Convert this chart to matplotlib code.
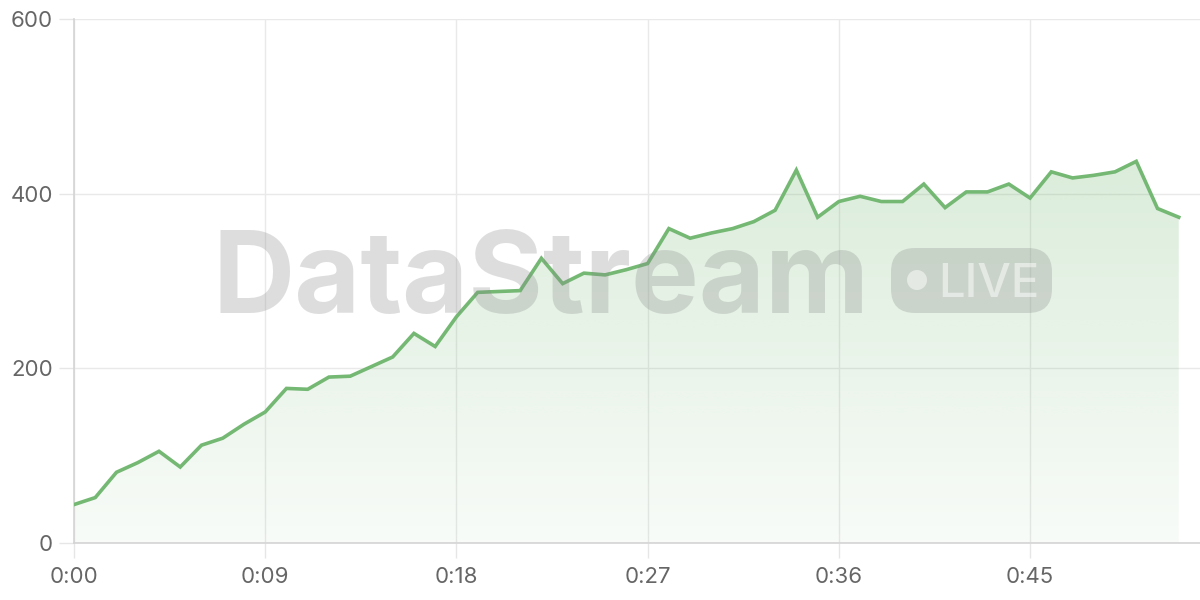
import numpy as np
import matplotlib
matplotlib.use("Agg")
import matplotlib.pyplot as plt
from matplotlib.patches import FancyBboxPatch, Circle
from matplotlib.transforms import IdentityTransform

# data: one reading per second
seconds = list(range(53))
values = [44, 52, 81, 92, 105, 87, 112, 120, 136, 150,
          177, 176, 190, 191, 202, 213, 240, 225, 259, 287,
          288, 289, 326, 297, 309, 307, 313, 320, 360, 349,
          355, 360, 368, 381, 427, 373, 391, 397, 391, 391,
          411, 384, 402, 402, 411, 395, 425, 418, 421, 425,
          437, 383, 373]
tick_pos = [0, 9, 18, 27, 36, 45]
tick_labels = ["0:00", "0:09", "0:18", "0:27", "0:36", "0:45"]
y_ticks = [0, 200, 400, 600]

green = "#74b874"
plt.rcParams["font.family"] = ["Inter", "DejaVu Sans"]

fig = plt.figure(figsize=(12, 6), dpi=100)
ax = fig.add_axes([74 / 1200, 57 / 600, 1 - 74 / 1200, 524 / 600])
ax.set_xlim(0, 53)
ax.set_ylim(0, 600)

# gradient fill under the line
poly = ax.fill_between(seconds, values, 0, facecolor="none", edgecolor="none")
top = max(values)
grad = np.zeros((256, 2, 4))
rgb = matplotlib.colors.to_rgb(green)
grad[..., :3] = rgb
grad[..., 3] = np.linspace(0.26, 0.05, 256)[:, None]
img = ax.imshow(grad, extent=[0, seconds[-1], 0, top], aspect="auto",
                origin="upper", zorder=1)
img.set_clip_path(poly.get_paths()[0], transform=ax.transData)

ax.plot(seconds, values, color=green, lw=2.6, zorder=3, solid_joinstyle="miter")

# axes styling
ax.set_xticks(tick_pos)
ax.set_xticklabels(tick_labels)
ax.set_yticks(y_ticks)
ax.grid(True, color="#e9e9e9", lw=1)
ax.set_axisbelow(True)
for s in ["top", "right"]:
    ax.spines[s].set_visible(False)
for s in ["left", "bottom"]:
    ax.spines[s].set_color("#d4d4d4")
    ax.spines[s].set_linewidth(1.2)
ax.tick_params(axis="both", length=11, width=1, color="#e6e6e6",
               labelcolor="#666666", labelsize=16)
ax.tick_params(axis="x", pad=6)
ax.tick_params(axis="y", pad=4)

# watermark on top
fig.text(212 / 1200, (600 - 313) / 600, "DataStream", fontsize=82,
         fontweight="bold", color="#888888", alpha=0.28, va="baseline",
         ha="left", zorder=10)
pill = FancyBboxPatch((891, 600 - 313), 161, 65,
                      boxstyle="round,pad=0,rounding_size=24",
                      transform=IdentityTransform(), facecolor="#888888",
                      edgecolor="none", alpha=0.28, zorder=10)
fig.patches.append(pill)
fig.patches.append(Circle((917, 600 - 280), 10, transform=IdentityTransform(),
                          facecolor="white", edgecolor="none", alpha=0.5,
                          zorder=11))
fig.text(938 / 1200, (600 - 297) / 600, "LIVE", fontsize=34,
         fontweight="medium", color="white", alpha=0.5, va="baseline",
         ha="left", zorder=11)

fig.savefig("out.png", dpi=100)
